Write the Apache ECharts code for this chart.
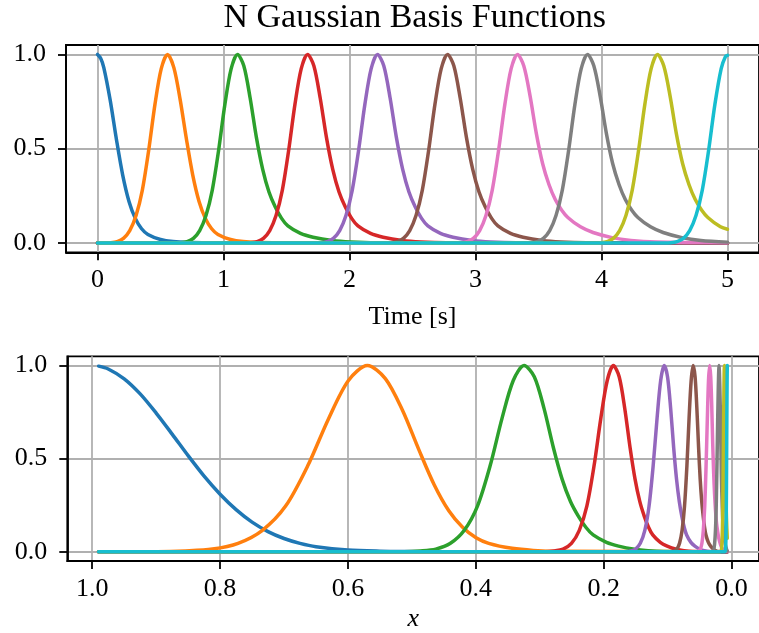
<!DOCTYPE html>
<html>
<head>
<meta charset="utf-8">
<script src="https://cdn.jsdelivr.net/npm/echarts/dist/echarts.min.js"></script>
<style>
html,body{margin:0;padding:0;background:#fff;}
#chart{width:759px;height:633px;}
</style>
</head>
<body>
<div id="chart"></div>
<script>
// ---------- data ----------
var titleText = 'N Gaussian Basis Functions';
var topXLabel = 'Time [s]';
var bottomXLabel = 'x';
var topXTicks = [0, 1, 2, 3, 4, 5];
var bottomXTicks = [1.0, 0.8, 0.6, 0.4, 0.2, 0.0];
var yTicks = [0, 0.5, 1.0];
var seriesNames = ['psi 1','psi 2','psi 3','psi 4','psi 5','psi 6','psi 7','psi 8','psi 9','psi 10'];
var colors = ['#1f77b4','#ff7f0e','#2ca02c','#d62728','#9467bd','#8c564b','#e377c2','#7f7f7f','#bcbd22','#17becf'];

// top panel: [time, psi]
var topBlue = [[0,1],[0.025,.98],[0.05,.93],[0.1,.76],[0.15,.55],[0.2,.36],[0.25,.22],[0.3,.13],[0.35,.075],[0.4,.045],[0.5,.018],[0.6,.007],[0.75,.002],[0.9,0],[5,0]];
var topOrange = [[0,0],[0.056,0],[0.106,.001],[0.156,.007],[0.206,.024],[0.256,.065],[0.306,.145],[0.356,.28],[0.406,.49],[0.456,.735],[0.506,.925],[0.556,1],[0.606,.93],[0.656,.76],[0.706,.55],[0.756,.36],[0.806,.22],[0.856,.13],[0.906,.075],[0.956,.045],[1.056,.018],[1.156,.007],[1.306,.002],[1.456,0],[5,0]];
var topGreen = [[0,0],[0.611,0],[0.661,.001],[0.711,.007],[0.761,.024],[0.811,.065],[0.861,.145],[0.911,.28],[0.961,.49],[1.011,.735],[1.061,.925],[1.111,1],[1.161,.94],[1.211,.77],[1.261,.56],[1.311,.39],[1.361,.27],[1.411,.19],[1.461,.13],[1.511,.09],[1.611,.05],[1.711,.03],[1.861,.013],[2.011,.005],[2.211,.001],[5,0]];
var topRed = [[0,0],[1.167,0],[1.217,.001],[1.267,.007],[1.317,.024],[1.367,.065],[1.417,.145],[1.467,.28],[1.517,.49],[1.567,.735],[1.617,.925],[1.667,1],[1.717,.94],[1.767,.77],[1.817,.56],[1.867,.39],[1.917,.27],[1.967,.19],[2.017,.13],[2.067,.09],[2.167,.05],[2.267,.03],[2.417,.013],[2.567,.005],[2.767,.001],[5,0]];
var topPurple = [[0,0],[1.722,0],[1.772,.001],[1.822,.007],[1.872,.024],[1.922,.065],[1.972,.145],[2.022,.28],[2.072,.49],[2.122,.735],[2.172,.925],[2.222,1],[2.272,.94],[2.322,.77],[2.372,.56],[2.422,.39],[2.472,.27],[2.522,.19],[2.572,.13],[2.622,.09],[2.722,.05],[2.822,.03],[2.972,.013],[3.122,.005],[3.322,.001],[5,0]];
var topBrown = [[0,0],[2.278,0],[2.328,.001],[2.378,.007],[2.428,.024],[2.478,.065],[2.528,.145],[2.578,.28],[2.628,.49],[2.678,.735],[2.728,.925],[2.778,1],[2.828,.94],[2.878,.77],[2.928,.56],[2.978,.39],[3.028,.27],[3.078,.19],[3.128,.13],[3.178,.09],[3.278,.05],[3.378,.03],[3.528,.013],[3.678,.005],[3.878,.001],[5,0]];
var topPink = [[0,0],[2.833,0],[2.883,.001],[2.933,.007],[2.983,.024],[3.033,.065],[3.083,.145],[3.133,.28],[3.183,.49],[3.233,.735],[3.283,.925],[3.333,1],[3.383,.94],[3.433,.78],[3.483,.58],[3.533,.42],[3.583,.31],[3.633,.23],[3.683,.175],[3.733,.135],[3.833,.085],[3.933,.055],[4.083,.028],[4.233,.013],[4.433,.004],[4.733,.002],[5,.001]];
var topGray = [[0,0],[3.389,0],[3.439,.001],[3.489,.007],[3.539,.024],[3.589,.065],[3.639,.145],[3.689,.28],[3.739,.49],[3.789,.735],[3.839,.925],[3.889,1],[3.939,.94],[3.989,.78],[4.039,.58],[4.089,.42],[4.139,.31],[4.189,.23],[4.239,.175],[4.289,.135],[4.389,.085],[4.489,.055],[4.639,.028],[4.789,.013],[5,.004]];
var topOlive = [[0,0],[3.944,0],[3.994,.001],[4.044,.007],[4.094,.024],[4.144,.065],[4.194,.145],[4.244,.28],[4.294,.49],[4.344,.735],[4.394,.925],[4.444,1],[4.494,.94],[4.544,.78],[4.594,.58],[4.644,.42],[4.694,.31],[4.744,.23],[4.794,.175],[4.844,.135],[4.944,.085],[5,.072]];
var topCyan = [[0,0],[4.5,0],[4.55,.001],[4.6,.007],[4.65,.024],[4.7,.065],[4.75,.145],[4.8,.28],[4.85,.49],[4.9,.735],[4.95,.925],[4.985,.99],[5,.995]];

// bottom panel: [x, psi]
var botBlue = [[0.0066,0],[0.45,0],[0.5,.001],[0.55,.003],[0.6,.009],[0.65,.027],[0.675,.045],[0.7,.071],[0.725,.108],[0.75,.159],[0.775,.226],[0.8,.309],[0.825,.406],[0.85,.516],[0.875,.632],[0.9,.745],[0.925,.848],[0.95,.929],[0.975,.982],[0.99,.997]];
var botOrange = [[0.0066,0],[0.2665,.002],[0.3102,.007],[0.3432,.018],[0.3798,.045],[0.3996,.075],[0.4203,.13],[0.4422,.22],[0.4651,.36],[0.4893,.55],[0.5147,.76],[0.5415,.93],[0.5696,1],[0.5992,.92],[0.6303,.715],[0.6631,.46],[0.6975,.245],[0.7338,.115],[0.7719,.045],[0.8120,.014],[0.8542,.004],[0.8986,0],[0.99,0]];
var botGreen = [[0.0066,0],[0.1065,.001],[0.1304,.005],[0.1518,.013],[0.1767,.03],[0.1955,.05],[0.2164,.09],[0.2276,.13],[0.2394,.19],[0.2519,.27],[0.2650,.39],[0.2787,.56],[0.2933,.77],[0.3085,.94],[0.3245,1],[0.3414,.92],[0.3591,.715],[0.3777,.46],[0.3974,.245],[0.4180,.115],[0.4397,.045],[0.4626,.014],[0.4867,.004],[0.5119,0],[0.99,0]];
var botRed = [[0.0066,0],[0.0607,.001],[0.0743,.005],[0.0864,.013],[0.1006,.03],[0.1114,.05],[0.1232,.09],[0.1296,.13],[0.1364,.19],[0.1435,.27],[0.1509,.39],[0.1587,.56],[0.1670,.77],[0.1757,.94],[0.1848,1],[0.1944,.92],[0.2045,.715],[0.2151,.46],[0.2263,.245],[0.2381,.115],[0.2504,.045],[0.2635,.014],[0.2771,.004],[0.2915,0],[0.99,0]];
var botPurple = [[0.0066,0],[0.0346,.001],[0.0423,.005],[0.0493,.013],[0.0573,.03],[0.0635,.05],[0.0702,.09],[0.0739,.13],[0.0777,.19],[0.0817,.27],[0.0860,.39],[0.0905,.56],[0.0952,.77],[0.1001,.94],[0.1053,1],[0.1108,.92],[0.1165,.715],[0.1226,.46],[0.1290,.245],[0.1356,.115],[0.1427,.045],[0.1501,.014],[0.1579,.004],[0.1661,0],[0.99,0]];
var botBrown = [[0.0066,0],[0.0197,.001],[0.0241,.005],[0.0281,.013],[0.0327,.03],[0.0362,.05],[0.0400,.09],[0.0421,.13],[0.0443,.19],[0.0466,.27],[0.0490,.39],[0.0515,.56],[0.0542,.77],[0.0570,.94],[0.0600,1],[0.0631,.92],[0.0664,.715],[0.0698,.46],[0.0735,.245],[0.0773,.115],[0.0813,.045],[0.0855,.014],[0.0900,.004],[0.0947,0],[0.99,0]];
var botPink = [[0.0066,.001],[0.0112,.004],[0.0137,.013],[0.0160,.028],[0.0186,.055],[0.0206,.085],[0.0228,.135],[0.0240,.175],[0.0252,.23],[0.0265,.31],[0.0279,.42],[0.0294,.58],[0.0309,.78],[0.0325,.94],[0.0342,1],[0.0360,.92],[0.0378,.715],[0.0398,.46],[0.0419,.245],[0.0441,.115],[0.0463,.045],[0.0488,.014],[0.0513,.004],[0.0540,0],[0.99,0]];
var botGray = [[0.0066,.004],[0.0078,.013],[0.0106,.055],[0.0130,.135],[0.0144,.23],[0.0159,.42],[0.0176,.78],[0.0195,1],[0.0216,.715],[0.0239,.245],[0.0264,.045],[0.0308,0],[0.99,0]];
var botOlive = [[0.0066,.072],[0.0074,.135],[0.0082,.23],[0.0091,.42],[0.0100,.78],[0.0111,1],[0.0123,.715],[0.0136,.245],[0.0150,.045],[0.0175,0],[0.99,0]];
var botCyan = [[0.0066,1],[0.0069,.92],[0.0073,.715],[0.0077,.46],[0.0081,.245],[0.0085,.115],[0.0089,.045],[0.0094,.014],[0.0099,.004],[0.0104,0],[0.99,0]];

var topData = [topBlue, topOrange, topGreen, topRed, topPurple, topBrown, topPink, topGray, topOlive, topCyan];
var botData = [botBlue, botOrange, botGreen, botRed, botPurple, botBrown, botPink, botGray, botOlive, botCyan];

// ---------- chart ----------
var FONT = 'Liberation Serif';
var chart = echarts.init(document.getElementById('chart'), null, {renderer: 'canvas'});

function valueAxisCommon(ticks, fmt, margin) {
  return {
    type: 'value',
    axisLine: {show: true, onZero: false, lineStyle: {color: '#000', width: 1.8}},
    axisTick: {show: true, inside: false, length: 8, customValues: ticks, lineStyle: {color: '#000', width: 1.8}},
    axisLabel: {show: true, customValues: ticks, formatter: fmt, margin: margin,
      fontFamily: FONT, fontSize: 26, color: '#000'},
    splitLine: {show: true, lineStyle: {color: '#b0b0b0', width: 1.8}},
    minorTick: {show: false}, minorSplitLine: {show: false}
  };
}

var xTop = valueAxisCommon(topXTicks, function (v) { return String(Math.round(v)); }, 15);
xTop.gridIndex = 0; xTop.min = -0.25; xTop.max = 5.25;
xTop.name = topXLabel; xTop.nameLocation = 'middle'; xTop.nameGap = 52;
xTop.nameTextStyle = {fontFamily: FONT, fontSize: 26, color: '#000'};

var xBot = valueAxisCommon(bottomXTicks, function (v) { return v.toFixed(1); }, 15);
xBot.gridIndex = 1; xBot.min = -0.043; xBot.max = 1.039; xBot.inverse = true;
xBot.name = bottomXLabel; xBot.nameLocation = 'middle'; xBot.nameGap = 45;
xBot.nameTextStyle = {fontFamily: FONT, fontSize: 26, fontStyle: 'italic', color: '#000'};

var yTop = valueAxisCommon(yTicks, function (v) { return v.toFixed(1); }, 20);
yTop.gridIndex = 0; yTop.min = -0.05; yTop.max = 1.05;
var yBot = valueAxisCommon(yTicks, function (v) { return v.toFixed(1); }, 20);
yBot.gridIndex = 1; yBot.min = -0.05; yBot.max = 1.05;

var series = [];
topData.forEach(function (d, i) {
  series.push({name: seriesNames[i], type: 'line', xAxisIndex: 0, yAxisIndex: 0, data: d,
    showSymbol: false, symbol: 'none', smooth: 0.3, z: 3,
    lineStyle: {color: colors[i], width: 3.5, join: 'round', cap: 'round'}});
});
botData.forEach(function (d, i) {
  series.push({name: seriesNames[i], type: 'line', xAxisIndex: 1, yAxisIndex: 1, data: d,
    showSymbol: false, symbol: 'none', smooth: 0.3, z: 3,
    lineStyle: {color: colors[i], width: 3.5, join: 'round', cap: 'round'}});
});

chart.setOption({
  animation: false,
  backgroundColor: '#fff',
  grid: [
    {left: 66, top: 45, width: 697.4, height: 207.3, show: true, borderColor: '#000', borderWidth: 1.8, backgroundColor: 'transparent', containLabel: false},
    {left: 67.3, top: 356.3, width: 695, height: 207.4, show: true, borderColor: '#000', borderWidth: 1.8, backgroundColor: 'transparent', containLabel: false}
  ],
  xAxis: [xTop, xBot],
  yAxis: [yTop, yBot],
  series: series,
  graphic: [{
    type: 'text', x: 414.7, y: 18.5, z: 10,
    style: {text: titleText, font: '34px "Liberation Serif"', fill: '#000', textAlign: 'center', textVerticalAlign: 'middle'}
  }]
});
</script>
</body>
</html>
